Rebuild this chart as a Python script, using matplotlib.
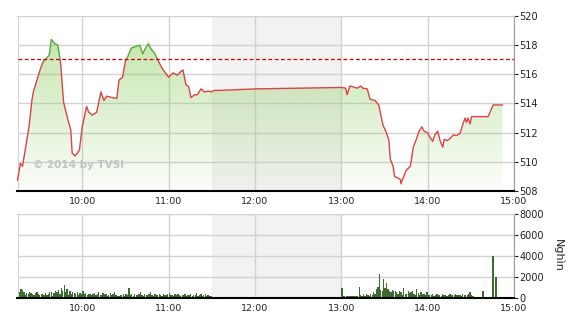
import matplotlib
matplotlib.use("Agg")
import matplotlib.pyplot as plt
import numpy as np
from matplotlib.patches import Polygon, Rectangle

#%% data ---------------------------------------------------------------------
price_times = ["09:15", "09:17", "09:18.5", "09:20", "09:23", "09:25", "09:26", "09:28.5",
               "09:31", "09:33", "09:37", "09:38.5", "09:41", "09:43", "09:45", "09:47",
               "09:50", "09:52", "09:53", "09:55", "09:58", "10:00", "10:03", "10:04.5",
               "10:07", "10:10", "10:13", "10:15", "10:17", "10:21", "10:24", "10:25.5",
               "10:28", "10:30", "10:32", "10:34", "10:37", "10:40", "10:42", "10:44",
               "10:46", "10:48", "10:50", "10:52", "10:55", "10:57", "11:00", "11:03",
               "11:06", "11:08.5", "11:10", "11:12", "11:14", "11:15.5", "11:18", "11:20",
               "11:22.5", "11:25", "11:28", "11:29.5", "11:32", "11:36", "12:00", "12:30",
               "13:00", "13:03", "13:04", "13:06", "13:08", "13:11", "13:13.5", "13:15",
               "13:18", "13:20", "13:23.5", "13:26", "13:29", "13:31", "13:33", "13:34",
               "13:36", "13:37", "13:39", "13:41", "13:41.5", "13:43", "13:45", "13:48",
               "13:50", "13:52", "13:54", "13:56", "13:57.5", "14:00", "14:01.5", "14:03.5",
               "14:05", "14:07", "14:08.5", "14:10.5", "14:11.5", "14:13.5", "14:15.5", "14:18",
               "14:20", "14:22.5", "14:24.5", "14:26", "14:27", "14:28", "14:29.5", "14:30.5",
               "14:42", "14:45.5", "14:52"]
price_values = [508.75, 509.9, 509.7, 510.6, 512.4, 514.2, 514.8, 515.6,
                516.4, 516.9, 517.3, 518.4, 518.1, 518.0, 516.75, 514.1,
                512.9, 512.2, 510.6, 510.4, 510.8, 512.4, 513.8, 513.4,
                513.2, 513.4, 514.8, 514.2, 514.5, 514.4, 514.35, 515.6,
                515.8, 516.9, 517.3, 517.8, 517.9, 518.0, 517.4, 517.8,
                518.1, 517.7, 517.5, 517.1, 516.5, 516.2, 515.8, 516.1,
                515.95, 516.2, 516.3, 515.3, 515.15, 514.4, 514.6, 514.6,
                515.0, 514.8, 514.85, 514.8, 514.9, 514.9, 515.0, 515.05,
                515.1, 515.05, 514.6, 515.2, 515.15, 515.05, 515.2, 515.05,
                515.0, 514.3, 514.2, 513.9, 512.5, 512.1, 511.5, 510.2,
                509.7, 509.0, 508.9, 508.8, 508.5, 508.9, 509.4, 509.7,
                511.0, 511.5, 512.1, 512.4, 512.1, 512.0, 511.7, 511.4,
                511.85, 512.1, 511.5, 511.0, 511.55, 511.45, 511.6, 511.85,
                511.8, 511.95, 512.6, 513.0, 512.7, 513.0, 512.6, 513.1,
                513.1, 513.9, 513.9]
ref_price = 517.05

# volume per minute (thousand shares), morning 09:15-11:30
vol_am = [400, 550, 800, 700, 500, 300, 450, 350, 500, 450, 400, 300, 450, 500, 350,
          300, 400, 350, 250, 450, 300, 350, 500, 550, 200, 450, 600, 500, 700, 350,
          900, 650, 1200, 500, 800, 300, 600, 400, 550, 450, 350, 500, 300, 450, 400,
          600, 350, 450, 300, 400, 350, 250, 400, 450, 300, 350, 500, 300, 250, 450,
          350, 400, 200, 300, 450, 250, 350, 500, 300, 200, 150, 300, 250, 400, 200,
          350, 250, 900, 300, 400, 200, 350, 300, 250, 400, 550, 300, 200, 350, 300,
          250, 400, 500, 300, 200, 350, 250, 300, 400, 300, 200, 350, 250, 300, 350,
          450, 250, 300, 200, 400, 300, 350, 250, 200, 300, 250, 400, 200, 300, 250,
          350, 200, 300, 250, 450, 200, 300, 350, 200, 250, 400, 150, 300, 200, 150, 100]
# afternoon 13:00-14:31
vol_pm = [900, 150, 150, 150, 150, 150, 150, 150, 150, 150, 200, 200, 1000, 300, 200,
          350, 150, 400, 250, 200, 350, 300, 500, 400, 800, 1000, 2230, 700, 600, 1750,
          900, 1400, 800, 600, 500, 700, 600, 650, 500, 400, 600, 500, 300, 900, 400,
          350, 600, 450, 550, 600, 400, 300, 800, 450, 300, 500, 350, 400, 250, 550,
          300, 300, 250, 350, 200, 300, 400, 250, 300, 200, 350, 250, 300, 200, 250,
          350, 300, 250, 300, 350, 300, 250, 300, 200, 350, 300, 250, 300, 350, 500,
          300, 150]
# late trades after continuous session
vol_late_times = ["14:38", "14:45", "14:47", "14:51"]
vol_late = [650, 3950, 2000, 100]

hour_ticks = ["10:00", "11:00", "12:00", "13:00", "14:00", "15:00"]


def to_hours(s):
    h, m = s.split(":")
    return int(h) + float(m) / 60.0


t_price = np.array([to_hours(s) for s in price_times])
p = np.array(price_values)
t_am = to_hours("09:15") + np.arange(len(vol_am)) / 60.0
t_pm = to_hours("13:00") + np.arange(len(vol_pm)) / 60.0
t_late = np.array([to_hours(s) for s in vol_late_times])
x_ticks = [to_hours(s) for s in hour_ticks]

#%% figure -------------------------------------------------------------------
fig = plt.figure(figsize=(5.7, 3.2), dpi=100)
ax = fig.add_axes([17.5 / 570, 1 - 191 / 320, (514 - 17.5) / 570, 175 / 320])
axv = fig.add_axes([17.5 / 570, 1 - 297.7 / 320, (514 - 17.5) / 570, 83.7 / 320])

grid_col = "#d2d2d2"
for a in (ax, axv):
    a.set_xlim(9.25, 15.0)
    a.axvspan(11.5, 13.0, color="#f2f2f2", zorder=0, lw=0)
    a.set_xticks(x_ticks)
    a.set_xticklabels(hour_ticks)
    a.grid(True, color=grid_col, lw=1)
    a.set_axisbelow(True)
    a.yaxis.tick_right()
    a.tick_params(axis="x", length=0, pad=4.5, labelsize=6.8, colors="#222222")
    a.tick_params(axis="y", length=3, width=0.8, pad=1, labelsize=7,
                  colors="#222222", direction="out")
    for s in ("left", "top"):
        a.spines[s].set_color(grid_col)
    a.spines["right"].set_color("#999999")
    a.spines["bottom"].set_color("black")
    a.spines["bottom"].set_linewidth(1.5)

# price panel
ax.set_ylim(508, 520)
ax.set_yticks(np.arange(508, 521, 2))

# gradient fill under the price line
ymin, ymax = 508, 518.5
grad = np.zeros((200, 2, 4))
alpha = np.linspace(0.03, 0.5, 200)[:, None]
grad[..., 0] = 0.55
grad[..., 1] = 0.80
grad[..., 2] = 0.36
grad[..., 3] = alpha
img = ax.imshow(grad, extent=[t_price[0], t_price[-1], ymin, ymax],
                origin="lower", aspect="auto", zorder=1, interpolation="bilinear")
poly = Polygon(np.column_stack([np.r_[t_price[0], t_price, t_price[-1]],
                                np.r_[508, p, 508]]),
               closed=True, facecolor="none", edgecolor="none")
ax.add_patch(poly)
img.set_clip_path(poly)

# line: green above the reference, red below
below = Rectangle((9.0, 500), 7, ref_price - 500, transform=ax.transData)
above = Rectangle((9.0, ref_price), 7, 10, transform=ax.transData)
l1, = ax.plot(t_price, p, color="#d9434c", lw=1.0, zorder=3)
l1.set_clip_path(below)
l2, = ax.plot(t_price, p, color="#5aa83c", lw=1.0, zorder=3)
l2.set_clip_path(above)

ax.axhline(ref_price, color="#cc0000", lw=0.9, ls=(0, (3, 2)), zorder=4)

ax.text(9.43, 509.6, "\u00a9 2014 by TVSI", color="#c4c4c4", fontsize=7.5,
        fontweight="bold", zorder=5)

# volume panel
bar_col = "#3d6a30"
axv.bar(t_am, vol_am, width=0.9 / 60, color=bar_col, align="edge", zorder=2, lw=0)
axv.bar(t_pm, vol_pm, width=0.9 / 60, color=bar_col, align="edge", zorder=2, lw=0)
axv.bar(t_late, vol_late, width=0.9 / 60, color=bar_col, align="edge", zorder=2, lw=0)
axv.set_ylim(0, 8000)
axv.set_yticks(np.arange(0, 8001, 2000))
axv.yaxis.set_label_position("right")
axv.set_ylabel("Nghìn", rotation=-90, fontsize=8, labelpad=14, color="#222222")

fig.savefig("out.png", dpi=100)
